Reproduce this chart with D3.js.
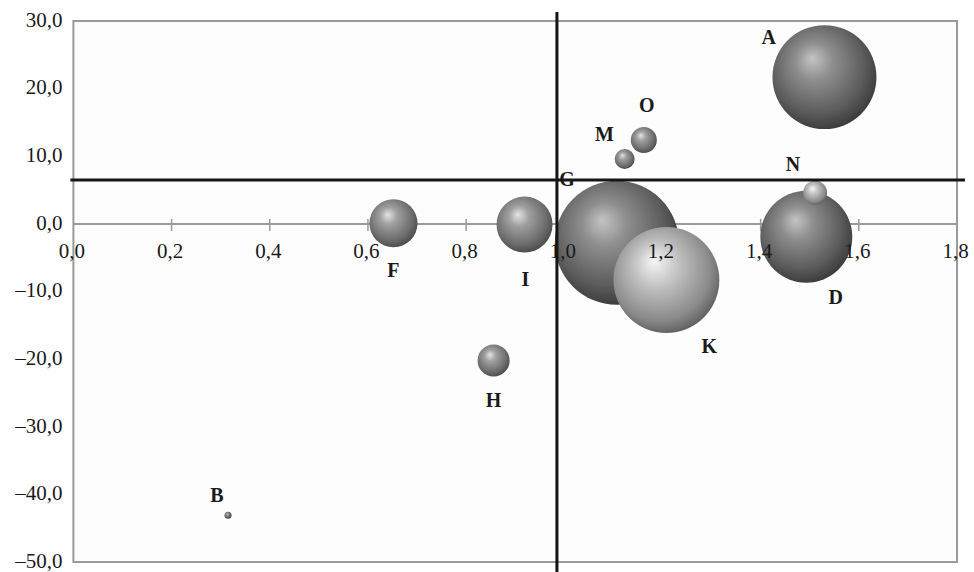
<!DOCTYPE html>
<html>
<head>
<meta charset="utf-8">
<script src="https://cdn.jsdelivr.net/npm/d3@7"></script>
<style>
  body { margin: 0; background: #fff; }
  svg text { font-family: "Liberation Serif", "Times New Roman", serif; fill: #1a1a1a; }
  .tick-label { font-size: 21px; }
  .bubble-label { font-size: 20px; font-weight: bold; }
</style>
</head>
<body>
<svg id="chart" width="974" height="572"></svg>
<script>
/* data */
var names  = ["A", "B", "D", "F", "G", "H", "I", "K", "M", "N", "O"];
var xVals  = [1.530, 0.315, 1.493, 0.652, 1.107, 0.856, 0.919, 1.208, 1.123, 1.511, 1.162];
var yVals  = [21.7, -43.1, -1.9, 0.1, -2.8, -20.2, -0.1, -8.3, 9.6, 4.6, 12.4];
var sizes  = [70.3, 0.32, 55.0, 15.0, 100.0, 6.7, 20.4, 73.0, 2.6, 3.7, 4.4];
var xTicks = [0, 0.2, 0.4, 0.6, 0.8, 1.0, 1.2, 1.4, 1.6, 1.8];
var yTicks = [30, 20, 10, 0, -10, -20, -30, -40, -50];
var avgX = 0.985;   // vertical reference line
var avgY = 6.5;     // horizontal reference line

/* label placement (angle in degrees, gap past the sphere edge) */
var labelAngle = {A: 216, B: 242, D: 64, F: 90, G: 232, H: 90, I: 89, K: 57, M: 231, N: 232, O: 275};
var labelGap   = {A: 17, B: 20, D: 21, F: 23, G: 19, H: 23, I: 26, K: 26, M: 22, N: 24, O: 22};
var shade      = {A: "dark", D: "dark", G: "dark", K: "light", N: "light", O: "mid", M: "mid", I: "mid", F: "mid", H: "mid", B: "dark"};

var width = 974, height = 572;
var margin = {top: 21, right: 17, bottom: 10, left: 73.4};

var svg = d3.select("#chart");

var x = d3.scaleLinear().domain([0, 1.8]).range([margin.left, width - margin.right]);
var y = d3.scaleLinear().domain([-50, 30]).range([height - margin.bottom, margin.top]);
var r = d3.scaleSqrt().domain([0, 100]).range([0, 62]);

function fmt(d) {
  return (d < 0 ? "\u2013" : "") + Math.abs(d).toFixed(1).replace(".", ",");
}

var data = names.map(function(n, i) {
  return {name: n, x: xVals[i], y: yVals[i], size: sizes[i]};
});
// big ones first so the small ones sit on top (K over G, N over D)
data.sort(function(a, b) { return a.name == "K" ? 1 : b.name == "K" ? -1 : b.size - a.size; });

/* sphere gradients */
var defs = svg.append("defs");
var stops = {
  dark:  [["0%", "#c4c4c4"], ["30%", "#8e8e8e"], ["75%", "#5c5c5c"], ["100%", "#3a3a3a"]],
  mid:   [["0%", "#e4e4e4"], ["30%", "#a0a0a0"], ["78%", "#6a6a6a"], ["100%", "#4a4a4a"]],
  light: [["0%", "#f6f6f6"], ["35%", "#c2c2c2"], ["80%", "#8a8a8a"], ["100%", "#5e5e5e"]]
};
Object.keys(stops).forEach(function(k) {
  var g = defs.append("radialGradient").attr("id", "sphere-" + k)
    .attr("cx", "45%").attr("cy", "42%").attr("r", "60%")
    .attr("fx", "38%").attr("fy", "32%");
  g.selectAll("stop").data(stops[k]).enter().append("stop")
    .attr("offset", function(d) { return d[0]; })
    .attr("stop-color", function(d) { return d[1]; });
});
defs.append("filter").attr("id", "soft")
  .append("feGaussianBlur").attr("stdDeviation", 0.7);

/* plot frame */
svg.append("rect")
  .attr("x", x(0)).attr("y", y(30))
  .attr("width", x(1.8) - x(0)).attr("height", y(-50) - y(30))
  .attr("fill", "#fdfdfd").attr("stroke", "#9a9a9a").attr("stroke-width", 2);

/* x axis line + ticks through y = 0 */
var xLine = svg.append("g");
xLine.append("line")
  .attr("x1", x(0)).attr("x2", x(1.8))
  .attr("y1", y(0)).attr("y2", y(0))
  .attr("stroke", "#9a9a9a").attr("stroke-width", 2);
xLine.selectAll(".xt").data(xTicks.slice(1)).enter().append("line")
  .attr("class", "xt")
  .attr("x1", function(d) { return x(d); }).attr("x2", function(d) { return x(d); })
  .attr("y1", y(0) - 5).attr("y2", y(0) + 7)
  .attr("stroke", "#9a9a9a").attr("stroke-width", 1.5);

/* y axis labels */
var yAxis = svg.append("g")
  .attr("transform", "translate(" + x(0) + ",0)")
  .call(d3.axisLeft(y).tickValues(yTicks).tickSize(0).tickPadding(11).tickFormat(fmt));
yAxis.select(".domain").remove();
yAxis.selectAll("text").attr("class", "tick-label").attr("font-size", null).attr("font-family", null)
  .attr("dy", "0.25em");

/* bubbles */
svg.append("g").selectAll("circle").data(data).enter().append("circle")
  .attr("cx", function(d) { return x(d.x); })
  .attr("cy", function(d) { return y(d.y); })
  .attr("r", function(d) { return Math.max(3.5, r(d.size)); })
  .attr("fill", function(d) { return "url(#sphere-" + shade[d.name] + ")"; })
  .attr("filter", "url(#soft)");

/* x tick labels sit on top of the spheres */
var xAxis = svg.append("g")
  .attr("transform", "translate(-2," + y(0) + ")")
  .call(d3.axisBottom(x).tickValues(xTicks).tickSize(0).tickPadding(19).tickFormat(fmt));
xAxis.select(".domain").remove();
xAxis.selectAll("text").attr("class", "tick-label").attr("font-size", null).attr("font-family", null);

/* reference lines */
svg.append("line")
  .attr("x1", x(0) - 3).attr("x2", width - 9)
  .attr("y1", y(avgY)).attr("y2", y(avgY))
  .attr("stroke", "#151515").attr("stroke-width", 3);
svg.append("line")
  .attr("x1", x(avgX)).attr("x2", x(avgX))
  .attr("y1", 12).attr("y2", height)
  .attr("stroke", "#151515").attr("stroke-width", 3);

/* bubble labels */
svg.append("g").selectAll("text").data(data).enter().append("text")
  .attr("class", "bubble-label")
  .attr("text-anchor", "middle")
  .attr("dominant-baseline", "central")
  .attr("x", function(d) {
    var a = labelAngle[d.name] * Math.PI / 180;
    return x(d.x) + (Math.max(3.5, r(d.size)) + labelGap[d.name]) * Math.cos(a);
  })
  .attr("y", function(d) {
    var a = labelAngle[d.name] * Math.PI / 180;
    return y(d.y) + (Math.max(3.5, r(d.size)) + labelGap[d.name]) * Math.sin(a);
  })
  .text(function(d) { return d.name; });
</script>
</body>
</html>
